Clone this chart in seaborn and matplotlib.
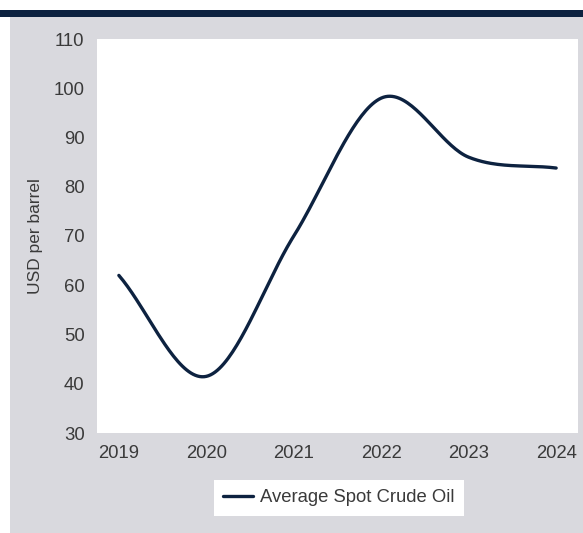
import numpy as np
import pandas as pd
import matplotlib
matplotlib.use("Agg")
import matplotlib.pyplot as plt
from matplotlib import font_manager
from matplotlib.patches import Rectangle
import seaborn as sns

# ── data ───────────────────────────────────────────────────────────────────────
years  = [2019, 2020, 2021, 2022, 2023, 2024]
prices = [62.0, 41.5, 70.0, 98.0, 86.0, 83.8]
series_name = "Average Spot Crude Oil"
y_ticks = [30, 40, 50, 60, 70, 80, 90, 100, 110]

NAVY = "#0d2240"
PANEL = "#d9d9de"
TEXT = "#3a3a3a"


def smooth(xs, ys, n=40):
    # cubic hermite (catmull-rom) through the yearly points, for a smoothed line
    xs = np.asarray(xs, float); ys = np.asarray(ys, float)
    m = np.empty_like(ys)
    m[1:-1] = (ys[2:] - ys[:-2]) / (xs[2:] - xs[:-2])
    m[0] = (ys[1] - ys[0]) / (xs[1] - xs[0])
    m[-1] = (ys[-1] - ys[-2]) / (xs[-1] - xs[-2])
    out_x, out_y = [], []
    for i in range(len(xs) - 1):
        h = xs[i + 1] - xs[i]
        t = np.linspace(0, 1, n, endpoint=(i == len(xs) - 2))
        h00 = 2*t**3 - 3*t**2 + 1; h10 = t**3 - 2*t**2 + t
        h01 = -2*t**3 + 3*t**2;    h11 = t**3 - t**2
        out_x.append(xs[i] + t * h)
        out_y.append(h00*ys[i] + h10*h*m[i] + h01*ys[i+1] + h11*h*m[i+1])
    return np.concatenate(out_x), np.concatenate(out_y)


sns.set_style("white")
installed = {f.name for f in font_manager.fontManager.ttflist}
if "Liberation Sans Narrow" in installed:
    FONT, FS, FL = "Liberation Sans Narrow", 14, 13
else:
    FONT, FS, FL = "Liberation Sans", 13.3, 12.5
plt.rcParams["font.family"] = [FONT, "DejaVu Sans"]

fig = plt.figure(figsize=(5.83, 5.33), dpi=100, facecolor="white")
W, H = 583, 533
# grey panel + navy band on top
fig.patches.append(Rectangle((10 / W, 0), 1, (H - 16.5) / H, transform=fig.transFigure,
                             facecolor=PANEL, edgecolor="none", zorder=-2))
fig.patches.append(Rectangle((0, (H - 16.5) / H), 1, 6.5 / H, transform=fig.transFigure,
                             facecolor=NAVY, edgecolor="none", zorder=-2))

ax = fig.add_axes([97 / W, (H - 433) / H, 481 / W, 394 / H])
ax.set_zorder(2)
ax.set_facecolor("white")

xs, ys = smooth(years, prices)
df = pd.DataFrame({"year": xs, "price": ys})
sns.lineplot(data=df, x="year", y="price", ax=ax, color=NAVY, linewidth=2.4,
             label=series_name, legend=False, sort=False)

ax.set_xlim(2018.75, 2024.25)
ax.set_ylim(30, 110)
ax.set_xticks(years)
ax.set_yticks(y_ticks)
ax.set_xticklabels([str(y) for y in years])
for s in ax.spines.values():
    s.set_visible(False)
ax.tick_params(axis="both", direction="out", length=4, width=1, color="white",
               labelsize=FS, labelcolor=TEXT)
ax.tick_params(axis="x", pad=5)
ax.tick_params(axis="y", pad=5)
ax.set_xlabel("")
ax.set_ylabel("USD per barrel", fontsize=FL, color=TEXT)
ax.yaxis.set_label_coords(-0.112, 0.5)

handles, labels = ax.get_legend_handles_labels()
leg = fig.legend(handles, labels, loc="center", bbox_to_anchor=(339 / W, (H - 498) / H),
                 frameon=True, fancybox=False, fontsize=FS, handlelength=1.6,
                 handletextpad=0.4, borderpad=0.5, borderaxespad=0)
leg.set_zorder(3)
leg.get_frame().set_facecolor("white")
leg.get_frame().set_edgecolor("none")
leg.get_frame().set_alpha(1)
for t in leg.get_texts():
    t.set_color(TEXT)

fig.savefig("out.png", dpi=100, facecolor="white")
